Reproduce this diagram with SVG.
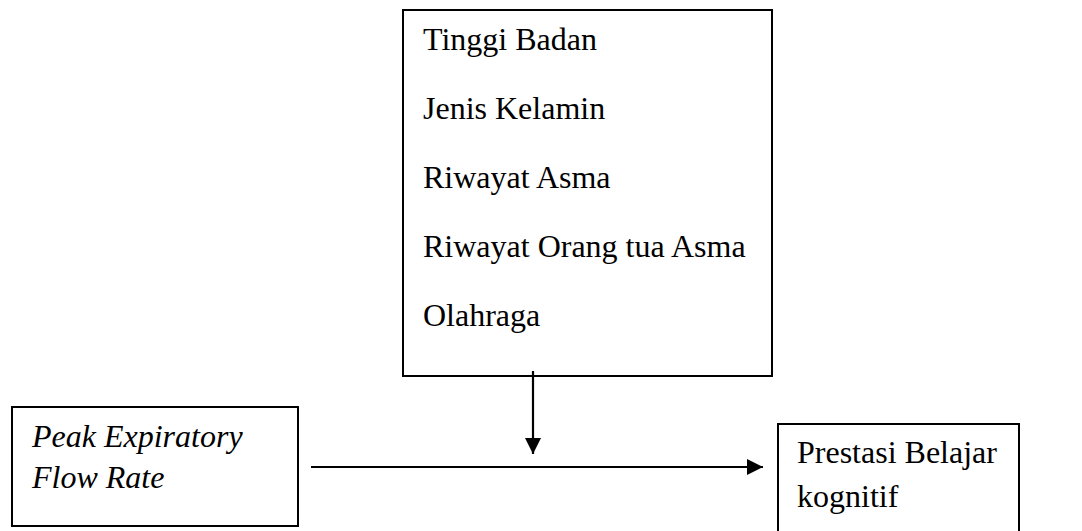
<svg xmlns="http://www.w3.org/2000/svg" width="1082" height="531" viewBox="0 0 1082 531">
<style>
.box{fill:#fff;stroke:#000;stroke-width:2}
.t{font-family:"Liberation Serif","Times New Roman",serif;font-size:32px;fill:#000}
.i{font-style:italic}
.c{stroke:#000;stroke-width:2.2;fill:none}
</style>
<defs>
<marker id="ah" viewBox="0 0 16 16" refX="16" refY="8" markerWidth="16" markerHeight="16" markerUnits="userSpaceOnUse" orient="auto">
<path d="M0,0 L16,8 L0,16 Z" fill="#000"/>
</marker>
</defs>
<rect width="1082" height="531" fill="#fff"/>
<g id="factors">
<rect class="box" x="403" y="10" width="369" height="366"/>
<text class="t" x="423" y="50">Tinggi Badan</text>
<text class="t" x="423" y="119">Jenis Kelamin</text>
<text class="t" x="423" y="188">Riwayat Asma</text>
<text class="t" x="423" y="257">Riwayat Orang tua Asma</text>
<text class="t" x="423" y="326">Olahraga</text>
</g>
<g id="pefr">
<rect class="box" x="12" y="407" width="286" height="119"/>
<text class="t i" x="32" y="447">Peak Expiratory</text>
<text class="t i" x="32" y="488">Flow Rate</text>
</g>
<g id="prestasi">
<rect class="box" x="778" y="424" width="241" height="120"/>
<text class="t" x="797" y="463">Prestasi Belajar</text>
<text class="t" x="797" y="507">kognitif</text>
</g>
<g id="connectors">
<line class="c" x1="311" y1="467" x2="763" y2="467" marker-end="url(#ah)"/>
<line class="c" x1="533" y1="371" x2="533" y2="454" marker-end="url(#ah)"/>
</g>
</svg>
